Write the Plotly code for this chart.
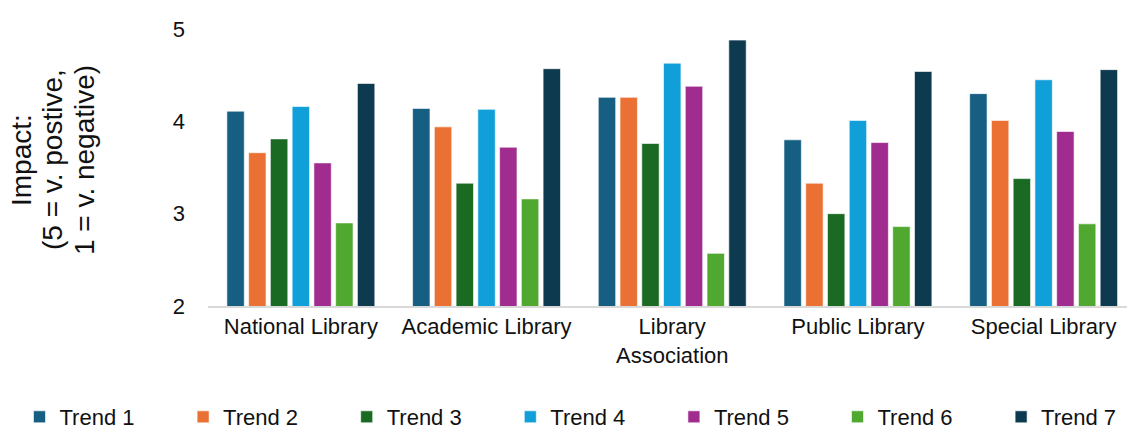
import plotly.graph_objects as go

# Library types on the x axis
categories = ["National Library", "Academic Library", "Library<br>Association",
              "Public Library", "Special Library"]

# Mean impact score per trend (5 = very positive, 1 = very negative)
trend_names = ["Trend 1", "Trend 2", "Trend 3", "Trend 4", "Trend 5", "Trend 6", "Trend 7"]
trend_1 = [4.11, 4.14, 4.26, 3.80, 4.30]
trend_2 = [3.66, 3.94, 4.26, 3.33, 4.01]
trend_3 = [3.81, 3.33, 3.76, 3.00, 3.38]
trend_4 = [4.16, 4.13, 4.63, 4.01, 4.45]
trend_5 = [3.55, 3.72, 4.38, 3.77, 3.89]
trend_6 = [2.90, 3.16, 2.57, 2.86, 2.89]
trend_7 = [4.41, 4.57, 4.88, 4.54, 4.56]
series = [trend_1, trend_2, trend_3, trend_4, trend_5, trend_6, trend_7]

colors = ["#175F82", "#EA7133", "#1B6A24", "#109FD8", "#A12C8F", "#50A830", "#0E3A50"]

y_ticks = [2, 3, 4, 5]

# y-axis title, one rotated line each (tighter line spacing than a <br> title)
y_title_lines = ["Impact:", "(5 = v. postive,", "1 = v. negative)"]

FONT = "Liberation Sans, Arial, sans-serif"
W, H = 1127, 432
PLOT_L, PLOT_R, PLOT_T, PLOT_B = 208, W, 29, 306

fig = go.Figure()
legend_ids = ["legend"] + [f"legend{i}" for i in range(2, 8)]
for name, vals, col, lid in zip(trend_names, series, colors, legend_ids):
    fig.add_trace(go.Bar(
        x=categories, y=vals, name=name, legend=lid,
        marker=dict(color=col, line=dict(color="rgba(255,255,255,0.6)", width=1)),
    ))

# one single-entry legend per trend, spread evenly along the bottom edge
legend_step = 163.6
legend_first = 19.5
legends = {}
for i, lid in enumerate(legend_ids):
    legends[lid] = dict(
        orientation="h",
        x=(legend_first + i * legend_step) / W, xref="container", xanchor="left",
        y=1 - 417 / H, yref="container", yanchor="middle",
        font=dict(family=FONT, size=22, color="#111111"),
        itemclick=False, bgcolor="rgba(0,0,0,0)",
    )

# rotated title lines placed left of the tick labels
plot_w = PLOT_R - PLOT_L
plot_h = PLOT_B - PLOT_T
title_x_px = [22, 53, 85]
title_y_px = 160
annotations = []
for line, xp in zip(y_title_lines, title_x_px):
    annotations.append(dict(
        text=line, textangle=-90, showarrow=False,
        xref="paper", yref="paper",
        x=(xp - PLOT_L) / plot_w, y=(PLOT_B - title_y_px) / plot_h,
        xanchor="center", yanchor="middle",
        font=dict(family=FONT, size=28, color="#111111"),
    ))

fig.update_layout(
    width=W, height=H,
    margin=dict(l=PLOT_L, r=W - PLOT_R, t=PLOT_T, b=H - PLOT_B, autoexpand=False),
    paper_bgcolor="white", plot_bgcolor="white",
    barmode="group", bargap=0.18, bargroupgap=0.2,
    font=dict(family=FONT, size=22, color="#111111"),
    showlegend=True,
    annotations=annotations,
    **legends,
)

fig.update_xaxes(
    range=[-0.5, 4.449],
    showline=True, linecolor="#D9D9D9", linewidth=2,
    ticks="", tickfont=dict(size=22),
    showgrid=False, zeroline=False,
)
fig.update_yaxes(
    range=[2, 5], tickvals=y_ticks, ticktext=[str(v) for v in y_ticks],
    showgrid=False, zeroline=False, showline=False, ticks="",
    tickfont=dict(size=22), ticklabelstandoff=22,
)

fig.write_html("out.html")
